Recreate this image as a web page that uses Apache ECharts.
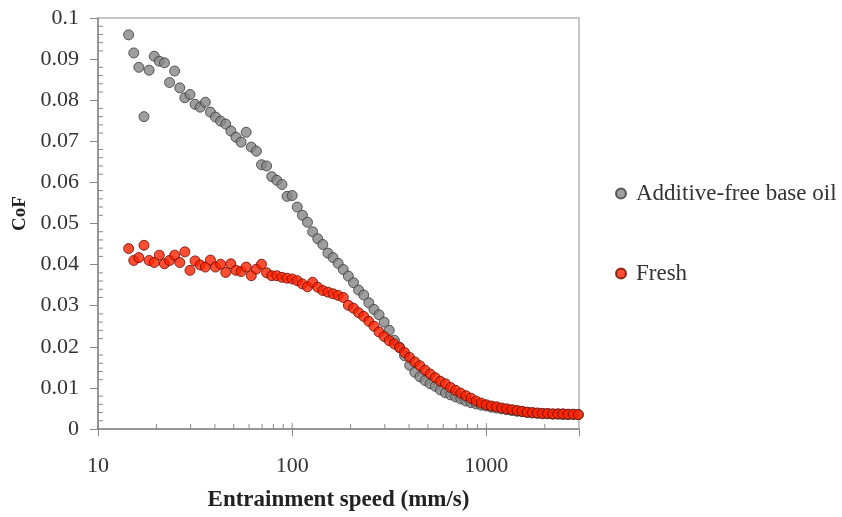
<!DOCTYPE html>
<html>
<head>
<meta charset="utf-8">
<script src="https://cdn.jsdelivr.net/npm/echarts@6/dist/echarts.min.js"></script>
<style>
html,body{margin:0;padding:0;background:#fff;}
#chart{width:842px;height:517px;}
</style>
</head>
<body>
<div id="chart"></div>
<script>
// Entrainment speed (mm/s), shared by both series
var speeds = [14.38,15.28,16.23,17.25,18.33,19.47,20.69,21.98,23.36,24.81,
  26.37,28.01,29.76,31.62,33.60,35.70,37.93,40.29,42.81,45.48,
  48.33,51.34,54.55,57.96,61.58,65.43,69.51,73.85,78.47,83.37,
  88.58,94.11,100,106.2,112.9,119.9,127.4,135.4,143.8,152.8,
  162.4,172.5,183.3,194.7,206.9,219.8,233.6,248.1,263.7,280.1,
  297.6,316.2,336.0,357.0,379.3,402.9,428.1,454.8,483.3,513.4,
  545.5,579.6,615.8,654.3,695.1,738.5,784.7,833.7,885.8,941.1,
  1000,1062,1129,1199,1274,1354,1438,1528,1624,1725,
  1833,1947,2069,2198,2336,2481,2637,2801,2976];

var baseOil = [0.0959,0.0915,0.0880,0.0760,0.0873,0.0907,0.0895,0.0891,0.0843,0.0871,
  0.0830,0.0806,0.0814,0.0790,0.0783,0.0795,0.0771,0.0759,0.0749,0.0742,
  0.0725,0.0710,0.0698,0.0722,0.0686,0.0676,0.0643,0.0640,0.0614,0.0605,
  0.0595,0.0566,0.0568,0.0540,0.0520,0.0503,0.0480,0.0463,0.0449,0.0428,
  0.0417,0.0403,0.0388,0.0372,0.0356,0.0338,0.0326,0.0307,0.0291,0.0278,
  0.0260,0.0240,0.0216,0.0199,0.0178,0.0155,0.0138,0.0127,0.0118,0.0110,
  0.0104,0.0095,0.0088,0.0083,0.0078,0.0073,0.0068,0.0064,0.0061,0.0058,
  0.0056,0.0053,0.0051,0.0049,0.0047,0.0045,0.0043,0.0042,0.0040,0.0039,
  0.0038,0.0037,0.0037,0.0036,0.0036,0.0035,0.0035,0.0035,0.0035];

var fresh = [0.0439,0.0410,0.0417,0.0447,0.0410,0.0405,0.0423,0.0402,0.0410,0.0423,
  0.0405,0.0431,0.0386,0.0409,0.0399,0.0394,0.0411,0.0394,0.0401,0.0381,
  0.0402,0.0386,0.0383,0.0394,0.0373,0.0389,0.0401,0.0380,0.0373,0.0373,
  0.0369,0.0367,0.0365,0.0361,0.0353,0.0346,0.0357,0.0345,0.0337,0.0333,
  0.0329,0.0325,0.0320,0.0301,0.0294,0.0283,0.0274,0.0262,0.0250,0.0236,
  0.0225,0.0215,0.0207,0.0198,0.0186,0.0174,0.0163,0.0154,0.0143,0.0134,
  0.0125,0.0116,0.0110,0.0101,0.0094,0.0087,0.0081,0.0075,0.0068,0.0063,
  0.0059,0.0056,0.0054,0.0051,0.0049,0.0047,0.0045,0.0043,0.0041,0.0040,
  0.0039,0.0038,0.0038,0.0037,0.0037,0.0037,0.0036,0.0036,0.0035];

var seriesNames = ['Additive-free base oil', 'Fresh'];
var xMajorTicks = [10, 100, 1000];
var xMinorTicks = [20,30,40,50,60,70,80,90,200,300,400,500,600,700,800,900,2000];
var yMinorTicks = [0.002,0.004,0.006,0.008,0.012,0.014,0.016,0.018,
  0.022,0.024,0.026,0.028,0.032,0.034,0.036,0.038,
  0.042,0.044,0.046,0.048,0.052,0.054,0.056,0.058,
  0.062,0.064,0.066,0.068,0.072,0.074,0.076,0.078,
  0.082,0.084,0.086,0.088,0.092,0.094,0.096,0.098];

function pairs(xs, ys){ return xs.map(function(x,i){ return [x, ys[i]]; }); }

var FONT = "'Liberation Serif','Times New Roman',serif";
var chart = echarts.init(document.getElementById('chart'), null, {renderer:'canvas'});

function tickLine(dx, dy){
  return function(params, api){
    var p = api.coord([api.value(0), api.value(1)]);
    return {type:'line', shape:{x1:p[0], y1:p[1], x2:p[0]+dx, y2:p[1]+dy},
      style:{stroke:'#8a8a8a', lineWidth:1}};
  };
}

chart.setOption({
  animation:false,
  backgroundColor:'#fff',
  grid:{left:98, right:263, top:18, bottom:84, show:true, borderColor:'#b5b5b5', borderWidth:1.5},
  legend:{
    orient:'vertical', left:615, top:182, padding:0, itemGap:57,
    itemWidth:10, itemHeight:10, icon:'circle',
    data:seriesNames,
    textStyle:{fontFamily:FONT, fontSize:23, color:'#333', padding:[0,0,0,5]}
  },
  xAxis:{
    type:'log', logBase:10, min:10, max:3000,
    name:'Entrainment speed (mm/s)', nameLocation:'middle', nameGap:60,
    nameTextStyle:{fontFamily:FONT, fontSize:23, fontWeight:'bold', color:'#222'},
    axisLine:{lineStyle:{color:'#888', width:1.5}},
    axisTick:{show:true, length:7, lineStyle:{color:'#888'}},
    axisLabel:{fontFamily:FONT, fontSize:22, color:'#333', margin:26,
      formatter:function(v){ return (v===10||v===100||v===1000)? String(v) : ''; }},
    splitLine:{show:false}
  },
  yAxis:{
    type:'value', min:0, max:0.1, interval:0.01,
    name:'CoF', nameLocation:'middle', nameGap:60,
    nameTextStyle:{fontFamily:FONT, fontSize:19, fontWeight:'bold', color:'#222', padding:[0,0,0,20]},
    axisLine:{show:true, lineStyle:{color:'#888', width:1.5}},
    axisTick:{show:true, length:8, lineStyle:{color:'#888'}},
    axisLabel:{fontFamily:FONT, fontSize:22, color:'#333', margin:19,
      formatter:function(v){ return String(+v.toFixed(2)); }},
    splitLine:{show:false}
  },
  series:[
    {type:'custom', silent:true, z:1, data:xMinorTicks.map(function(v){return [v,0];}),
      renderItem:tickLine(0,-5)},
    {type:'custom', silent:true, z:1, data:xMajorTicks.map(function(v){return [v,0];}),
      renderItem:tickLine(0,-6)},
    {type:'custom', silent:true, z:1, data:yMinorTicks.map(function(v){return [10,v];}),
      renderItem:tickLine(5,0)},
    {name:seriesNames[0], type:'scatter', symbol:'circle', symbolSize:10, z:3,
      itemStyle:{color:'#868686', borderColor:'#3a3a3a', borderWidth:1},
      data:pairs(speeds, baseOil)},
    {name:seriesNames[1], type:'scatter', symbol:'circle', symbolSize:10, z:4,
      itemStyle:{color:'#ff2200', borderColor:'#6a0a00', borderWidth:1},
      data:pairs(speeds, fresh)}
  ]
});
</script>
</body>
</html>
